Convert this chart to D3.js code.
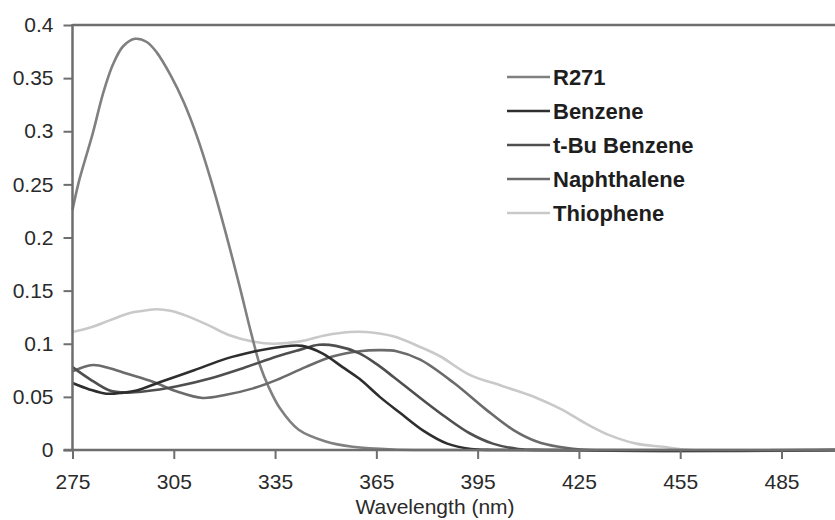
<!DOCTYPE html>
<html>
<head>
<meta charset="utf-8">
<script src="https://cdn.jsdelivr.net/npm/d3@7"></script>
<style>
  body { margin: 0; background: #fff; }
  svg { display: block; font-family: "Liberation Sans", Arial, sans-serif; }
</style>
</head>
<body>
<svg id="chart" width="835" height="520"></svg>
<script>
// values: [wavelength nm, absorbance]
var r271 = [[275,0.226],[277,0.254],[281,0.298],[284,0.335],[287,0.363],[290,0.380],[293.5,0.387],[297,0.384],[300,0.374],[304,0.353],[308,0.327],[312,0.294],[316,0.254],[320.5,0.203],[324.5,0.154],[328,0.109],[330.5,0.080],[333,0.060],[336.5,0.039],[342,0.019],[350,0.008],[358,0.003],[370,0.0005],[400,0],[505,0]];
var benzene = [[275,0.063],[280,0.057],[285,0.053],[290,0.054],[294,0.056],[301,0.064],[311,0.075],[320.5,0.086],[328.5,0.0925],[336.5,0.097],[343,0.098],[349,0.091],[355,0.078],[360,0.067],[366,0.050],[372,0.035],[379,0.018],[386,0.006],[393,0.001],[400,0],[505,0]];
var tBuBenzene = [[275,0.078],[280,0.067],[286,0.056],[291,0.054],[296,0.055],[306,0.060],[316,0.0675],[325.5,0.077],[335.5,0.088],[342,0.094],[348,0.099],[353,0.098],[360,0.091],[365,0.081],[370,0.069],[378,0.049],[385.5,0.031],[392.5,0.016],[399.5,0.006],[407,0.001],[415,0],[505,0]];
var naphthalene = [[275,0.074],[281,0.080],[286,0.077],[291,0.072],[299,0.064],[306,0.055],[313.5,0.049],[320.5,0.052],[328.5,0.058],[335.5,0.066],[344,0.078],[352,0.088],[360,0.093],[366,0.094],[371,0.093],[378,0.085],[388,0.063],[397.5,0.038],[405.5,0.019],[412.5,0.008],[419,0.003],[428,0],[505,0]];
var thiophene = [[275,0.111],[280,0.115],[286,0.122],[292,0.129],[296,0.131],[300,0.1325],[304,0.131],[309,0.126],[315.5,0.117],[321.5,0.108],[328.5,0.102],[334.5,0.100],[342,0.102],[350,0.108],[357,0.111],[362,0.111],[370,0.107],[378,0.097],[384,0.088],[392.5,0.071],[402.5,0.060],[412.5,0.049],[420,0.038],[427,0.025],[434,0.014],[442,0.006],[450,0.003],[458,0],[505,0]];

var seriesNames = ["R271", "Benzene", "t-Bu Benzene", "Naphthalene", "Thiophene"];
var seriesData = [r271, benzene, tBuBenzene, naphthalene, thiophene];
var xTicks = [275, 305, 335, 365, 395, 425, 455, 485];
var yTicks = [0, 0.05, 0.1, 0.15, 0.2, 0.25, 0.3, 0.35, 0.4];

var colors = ["#808080", "#2e2e2e", "#4f4f4f", "#6b6b6b", "#c9c9c9"];

var svg = d3.select("#chart");
var plotLeft = 72.5, plotRight = 849, plotTop = 25, plotBottom = 450;

var x = d3.scaleLinear().domain([275, 505]).range([plotLeft, plotRight]);
var y = d3.scaleLinear().domain([0, 0.4]).range([plotBottom, plotTop]);

// frame: top border
svg.append("line")
  .attr("x1", plotLeft).attr("x2", 835)
  .attr("y1", plotTop).attr("y2", plotTop)
  .attr("stroke", "#6e6e6e").attr("stroke-width", 2.5);

var line = d3.line()
  .x(function (d) { return x(d[0]); })
  .y(function (d) { return y(Math.max(0, d[1])); })
  .curve(d3.curveCatmullRom.alpha(0.5));

// draw back to front so darker lines sit on top like the original
var order = [4, 0, 3, 2, 1];
for (var i of order) {
  svg.append("path")
    .datum(seriesData[i])
    .attr("fill", "none")
    .attr("stroke", colors[i])
    .attr("stroke-width", 2.6)
    .attr("stroke-linejoin", "round")
    .attr("d", line);
}

// axes
var yAxis = svg.append("g")
  .attr("transform", "translate(" + plotLeft + ",0)")
  .call(d3.axisLeft(y).tickValues(yTicks).tickSize(9).tickPadding(10)
    .tickFormat(function (d) { return String(+d.toFixed(2)); }));
var xAxis = svg.append("g")
  .attr("transform", "translate(0," + plotBottom + ")")
  .call(d3.axisBottom(x).tickValues(xTicks).tickSize(9).tickPadding(15));

for (var ax of [xAxis, yAxis]) {
  ax.select(".domain").remove();
  ax.selectAll(".tick line").attr("stroke", "#6e6e6e").attr("stroke-width", 2);
  ax.selectAll(".tick text")
    .attr("fill", "#2a2a2a")
    .style("font-size", "21px")
    .style("font-family", "'Liberation Sans', Arial, sans-serif");
}

svg.append("line")
  .attr("x1", plotLeft).attr("x2", plotLeft)
  .attr("y1", plotTop - 1).attr("y2", plotBottom)
  .attr("stroke", "#6e6e6e").attr("stroke-width", 2.5);
svg.append("line")
  .attr("x1", plotLeft - 9).attr("x2", 835)
  .attr("y1", plotBottom).attr("y2", plotBottom)
  .attr("stroke", "#6e6e6e").attr("stroke-width", 2.5);

svg.append("text")
  .attr("x", 435).attr("y", 514)
  .attr("text-anchor", "middle")
  .attr("fill", "#2a2a2a")
  .style("font-size", "21px")
  .text("Wavelength (nm)");

// legend
var legend = svg.append("g").attr("transform", "translate(507,77)");
seriesNames.forEach(function (name, i) {
  var row = legend.append("g").attr("transform", "translate(0," + (i * 34) + ")");
  row.append("line")
    .attr("x1", 0).attr("x2", 43)
    .attr("y1", 0).attr("y2", 0)
    .attr("stroke", colors[i]).attr("stroke-width", 2.6);
  row.append("text")
    .attr("x", 46).attr("y", 8)
    .attr("fill", "#1e1e1e")
    .style("font-size", "22px")
    .style("font-weight", "bold")
    .text(name);
});
</script>
</body>
</html>
